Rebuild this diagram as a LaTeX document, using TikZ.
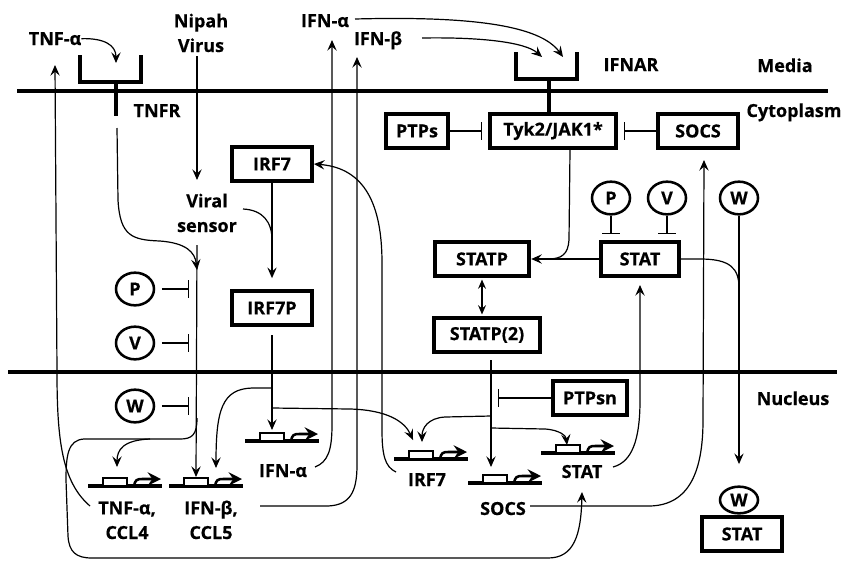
\documentclass[tikz,border=0pt]{standalone}
\usepackage{fontspec}
\setmainfont{Open Sans}[BoldFeatures={FakeBold=0.5}]
\usetikzlibrary{arrows.meta,shapes.geometric,calc}
\newcommand{\pwfont}{\fontsize{13.5}{18.5}\selectfont\bfseries}
\tikzset{
  pwbox/.style={draw, line width=2.8pt, minimum height=26pt, inner sep=1pt, font=\pwfont},
  modcirc/.style={draw, ellipse, line width=1.9pt, minimum width=28.5pt, minimum height=24.5pt, inner sep=0pt, font=\pwfont},
  lbl/.style={inner sep=0pt, align=center, font=\pwfont},
  link/.style={line width=0.9pt},
  flow/.style={link, -{Stealth[length=8pt,width=7pt,inset=3pt]}},
  inhib/.style={link, -{Bar[width=13pt]}},
  membrane/.style={line width=2.4pt},
  receptor/.style={line width=3pt, line join=miter},
  gene/.pic={
    \draw[line width=2.8pt] (-37,0) -- (37,0);
    \draw[line width=2pt, fill=white] (-22,0) rectangle (2,-8);
    \draw[line width=1.9pt, -{Stealth[length=10pt,width=10pt,inset=3.5pt]}] (9,0) .. controls (10,-6) and (12,-7) .. (17,-7) -- (36,-7);
    \coordinate (-p) at (-10,-9);
  }
}

\begin{document}
\begin{tikzpicture}[x=0.75pt, y=-0.75pt]
  \useasboundingbox (0,0) rectangle (841,561);
  % membranes and compartments
  \draw[membrane] (17,91) -- (828,91);
  \draw[membrane] (8,372) -- (837,372);
  \node[lbl, anchor=base] (media) at (785,72) {Media};
  \node[lbl, anchor=base] (cyto) at (794,117) {Cytoplasm};
  \node[lbl, anchor=base] (nucl) at (793,405) {Nucleus};
  % receptors
  \draw[receptor] (80,55) |- (141,82) -- (141,55);
  \draw[receptor] (116,82) -- (116,116);
  \draw[receptor] (516,52) |- (577,79) -- (577,52);
  \draw[receptor] (549,79) -- (549,112);
  % labels outside
  \node[lbl, anchor=base] (tnfa) at (55,45) {TNF-α};
  \node[lbl, anchor=base] (nipah) at (201,52) {Nipah\\Virus};
  \node[lbl, anchor=base] (tnfr) at (157,117) {TNFR};
  \node[lbl, anchor=base] (vsens) at (207,232) {Viral\\sensor};
  \node[lbl, anchor=base] (ifna) at (325,27) {IFN-α};
  \node[lbl, anchor=base] (ifnb) at (378,45) {IFN-β};
  \node[lbl, anchor=base] (ifnar) at (631,71) {IFNAR};
  % boxes
  \node[pwbox, minimum width=60pt] (irf7) at (272,164) {IRF7};
  \node[pwbox, minimum width=60pt] (irf7p) at (272,308) {IRF7P};
  \node[pwbox, minimum width=95pt] (tyk) at (553,131) {Tyk2/JAK1*};
  \node[pwbox, minimum width=47pt] (ptps) at (417,131) {PTPs};
  \node[pwbox, minimum width=60pt] (socs) at (698,131) {SOCS};
  \node[pwbox, minimum width=71pt] (statp) at (482,259) {STATP};
  \node[pwbox, minimum width=80pt] (statp2) at (487,335) {STATP(2)};
  \node[pwbox, minimum width=58pt] (stat) at (640,259) {STAT};
  \node[pwbox, minimum width=56pt] (ptpsn) at (590,398) {PTPsn};
  \node[pwbox, minimum width=60pt] (statn) at (742,534) {STAT};
  % modulators
  \node[modcirc] (pl) at (135,289) {P};
  \node[modcirc] (vl) at (135,343) {V};
  \node[modcirc] (wl) at (135,406) {W};
  \node[modcirc] (pr) at (611,198) {P};
  \node[modcirc] (vr) at (667,198) {V};
  \node[modcirc] (wr) at (739,198) {W};
  \node[modcirc, minimum height=20pt] (wn) at (739,500) {W};
  % genes
  \pic (tnfg) at (125,486) {gene};
  \pic (ifnbg) at (206,486) {gene};
  \pic (ifnag) at (282,441) {gene};
  \pic (irf7g) at (431,459) {gene};
  \pic (socsg) at (505,483) {gene};
  \pic (statg) at (578,453) {gene};
  \node[lbl, anchor=base] (tnfgl) at (127,539) {TNF-α,\\CCL4};
  \node[lbl, anchor=base] (ifnbgl) at (211,539) {IFN-β,\\CCL5};
  \node[lbl, anchor=base] (ifnagl) at (283,477) {IFN-α};
  \node[lbl, anchor=base] (irf7gl) at (427,486) {IRF7};
  \node[lbl, anchor=base] (socsgl) at (503,515) {SOCS};
  \node[lbl, anchor=base] (statgl) at (582,478) {STAT};
  % junctions
  \coordinate (vstop) at (197,245);
  \coordinate (vsbot) at (197,418);
  % TNF and virus entry
  \draw[flow] (tnfa.east) .. controls (104,38) and (116,45) .. (116,63);
  \draw[flow] (197,56) -- (197,180);
  \draw[flow] (117,128) -- (118,200) .. controls (120,236) and (132,240) .. (160,241) .. controls (186,243) and (195,252) .. (197,270);
  \draw[flow] (vstop) -- (ifnbg-p);
  \draw[inhib, shorten <=5pt, shorten >=6pt] (pl) -- (pl -| vstop);
  \draw[inhib, shorten <=5pt, shorten >=6pt] (vl) -- (vl -| vstop);
  \draw[inhib, shorten <=5pt, shorten >=6pt] (wl) -- (wl -| vstop);
  \draw[flow] (vsbot) .. controls (197,435) and (192,439) .. (180,439) -- (84,439) .. controls (68,440) and (66,455) .. (66,480) -- (68,536) .. controls (69,552) and (76,558) .. (92,558) -- (548,558) .. controls (574,558) and (581,535) .. (582,492);
  \draw[flow] (150,439) .. controls (123,440) and (117,450) .. (117,467);
  % IRF7 activation
  \draw[link] (243,209) .. controls (263,210) and (272,222) .. (272,240);
  \draw[flow, shorten >=8pt] (irf7) -- (irf7p);
  \draw[flow, shorten <=6pt] (irf7p.south) -- (272,430);
  \draw[flow] (272,388) -- (252,388) .. controls (222,389) and (216,410) .. (216,468);
  \draw[flow] (272,408) -- (350,409) .. controls (388,410) and (405,422) .. (413,440);
  % gene products
  \draw[flow] (90,506) .. controls (62,482) and (57,440) .. (57,372) -- (55,65);
  \draw[flow] (315,467) .. controls (328,462) and (332,450) .. (332,425) -- (332,40);
  \draw[flow] (260,506) -- (328,506) .. controls (350,505) and (357,492) .. (357,465) -- (357,57);
  \draw[flow] (396,472) .. controls (385,467) and (382,455) .. (382,430) -- (382,263) .. controls (382,205) and (365,168) .. (irf7.east);
  \draw[flow] (613,467) .. controls (632,462) and (640,440) .. (640,400) -- (640,285);
  \draw[flow] (530,506) -- (650,506) .. controls (690,505) and (703,470) .. (703,420) -- (704,160);
  % interferon receptor
  \draw[flow] (355,19) .. controls (470,16) and (540,25) .. (563,57);
  \draw[flow] (422,38) .. controls (480,37) and (525,42) .. (542,57);
  \draw[inhib, shorten >=4pt] (ptps) -- (tyk);
  \draw[inhib, shorten >=4pt] (socs) -- (tyk);
  \draw[link] (570,150) -- (569,240) .. controls (568,254) and (562,259) .. (548,259);
  \draw[flow] (stat) -- (statp);
  \draw[{Stealth[length=7pt,width=6pt,inset=2.5pt]}-{Stealth[length=7pt,width=6pt,inset=2.5pt]}, link, shorten <=1pt, shorten >=1pt] (statp.south) -- (statp.south |- statp2.north);
  \draw[inhib, shorten >=4.5pt] (pr) -- (pr |- stat.north);
  \draw[inhib, shorten >=4.5pt] (vr) -- (vr |- stat.north);
  \draw[link] (stat.east) -- (700,259) .. controls (730,259) and (739,268) .. (739,288);
  \draw[flow, shorten >=16pt] (wr) -- (wr |- wn.north);
  % nuclear STATP(2)
  \draw[flow] (491,360) -- (491,467);
  \draw[flow] (491,416) -- (445,417) .. controls (428,418) and (422,428) .. (422,442);
  \draw[flow] (491,428) -- (545,429) .. controls (560,430) and (566,436) .. (567,445);
  \draw[inhib] (ptpsn.west) -- (498,398);
\end{tikzpicture}
\end{document}
